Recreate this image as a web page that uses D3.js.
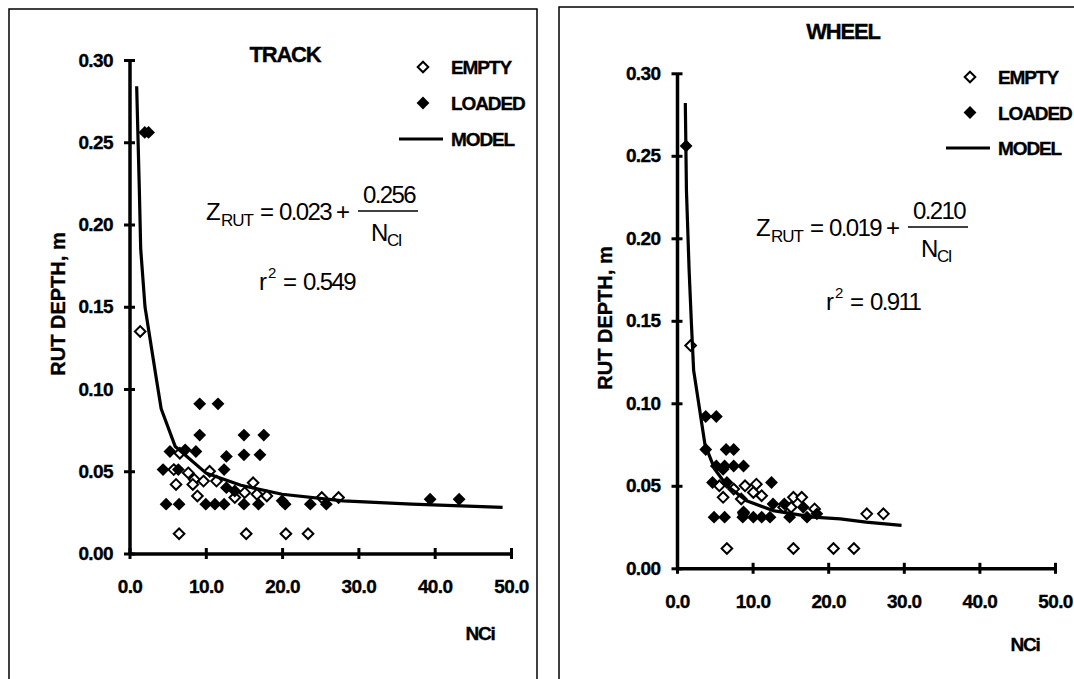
<!DOCTYPE html>
<html>
<head>
<meta charset="utf-8">
<script src="https://cdn.jsdelivr.net/npm/d3@7"></script>
<style>
  body { margin: 0; background: #fff; }
  svg { display: block; }
  text { font-family: "Liberation Sans", Arial, sans-serif; fill: #000; }
  .bold { font-weight: bold; stroke: #000; stroke-width: 0.35px; }
</style>
</head>
<body>
<div id="chart"></div>
<script>
var width = 1074
var height = 679

// tick labels
var yTicks = [0, 0.05, 0.10, 0.15, 0.20, 0.25, 0.30]
var xTicks = [0, 10, 20, 30, 40, 50]

// TRACK panel: [NCi, rut depth]
var trackEmpty = [[1.4,0.135],[6.5,0.012],[15.3,0.012],[20.5,0.012],[23.4,0.012],
  [6.6,0.061],[5.8,0.051],[6.1,0.042],[7.7,0.049],[8.5,0.045],[8.3,0.042],[8.9,0.035],
  [9.7,0.044],[10.5,0.050],[11.4,0.044],[13.8,0.034],[15.1,0.037],[16.2,0.043],
  [16.7,0.036],[18.0,0.035],[25.2,0.034],[27.4,0.034]]
var trackLoaded = [[2.0,0.256],[2.5,0.256],[9.2,0.091],[11.6,0.091],[9.2,0.072],
  [15.0,0.072],[17.6,0.072],[5.3,0.062],[7.3,0.063],[8.7,0.062],[12.7,0.059],
  [15.0,0.060],[17.1,0.060],[4.4,0.051],[6.4,0.051],[12.4,0.051],[12.7,0.040],
  [13.8,0.038],[4.8,0.030],[6.5,0.030],[10.0,0.030],[11.2,0.030],[12.4,0.030],
  [15.0,0.030],[16.9,0.030],[20.0,0.032],[20.4,0.030],[23.7,0.030],[25.8,0.030],
  [39.4,0.033],[43.2,0.033]]
var trackModel = [[0.94,0.284],[1.29,0.221],[1.47,0.185],[2.03,0.150],[3.56,0.105],
  [4.15,0.088],[6.0,0.065],[10,0.049],[14.6,0.0415],[20,0.036],[28,0.032],[37,0.030],[48.9,0.028]]

// WHEEL panel
var wheelEmpty = [[1.8,0.135],[6.6,0.012],[15.4,0.012],[20.7,0.012],[23.4,0.012],
  [25.1,0.033],[27.3,0.033],[5.6,0.050],[6.1,0.043],[7.5,0.048],[8.5,0.042],
  [9.0,0.050],[10.1,0.046],[10.5,0.051],[11.2,0.044],[8.8,0.034],[14.1,0.037],
  [15.1,0.037],[15.4,0.043],[16.5,0.043],[18.2,0.036]]
var wheelLoaded = [[1.2,0.256],[3.8,0.092],[5.2,0.092],[3.8,0.072],[6.5,0.072],
  [7.5,0.072],[5.2,0.062],[6.3,0.062],[7.5,0.062],[8.8,0.062],[6.1,0.060],
  [4.7,0.052],[6.6,0.052],[12.5,0.052],[4.9,0.031],[6.3,0.031],[8.7,0.031],
  [8.8,0.033],[10.1,0.031],[11.2,0.031],[12.3,0.031],[12.7,0.039],[14.2,0.039],
  [14.9,0.031],[16.7,0.037],[17.2,0.031],[18.5,0.033]]
var wheelModel = [[1.1,0.282],[1.25,0.229],[1.6,0.181],[1.9,0.149],[2.2,0.120],
  [3.7,0.075],[5.0,0.060],[6.6,0.050],[9.2,0.041],[12.7,0.035],[18.0,0.031],
  [21.6,0.030],[25,0.028],[29.7,0.026]]

var svg = d3.select("#chart")
    .append("svg")
    .attr("width", width)
    .attr("height", height)

function panel(cfg) {
    var g = svg.append("g")

    // frame (runs off the bottom / right like the original scan)
    g.append("rect")
        .attr("x", cfg.frame[0]).attr("y", cfg.frame[1])
        .attr("width", cfg.frame[2]).attr("height", 800)
        .attr("fill", "none").attr("stroke", "#000").attr("stroke-width", 1.5)

    var x = d3.scaleLinear().domain([0, 50]).range(cfg.xr)
    var y = d3.scaleLinear().domain([0, 0.30]).range(cfg.yr)

    // y axis with ticks crossing the line
    var ya = g.append("g")
        .attr("transform", "translate(" + cfg.xr[0] + ",0)")
        .call(d3.axisLeft(y).tickValues(yTicks).tickFormat(d3.format(".2f"))
            .tickSizeInner(5.5).tickSizeOuter(0).tickPadding(11))
    ya.select(".domain").attr("stroke-width", 3.5)
    ya.selectAll(".tick line").attr("x1", 5.5).attr("stroke-width", 3)
    ya.selectAll(".tick text").attr("class", "bold").style("font-size", "19px")
        .style("letter-spacing", "-0.6px")

    var xa = g.append("g")
        .attr("transform", "translate(0," + cfg.yr[0] + ")")
        .call(d3.axisBottom(x).tickValues(xTicks).tickFormat(d3.format(".1f"))
            .tickSizeInner(5.5).tickSizeOuter(0).tickPadding(21))
    xa.select(".domain").attr("stroke-width", 3.5)
    xa.selectAll(".tick line").attr("y1", -5.5).attr("stroke-width", 3)
    xa.selectAll(".tick text").attr("class", "bold").style("font-size", "19px")
        .style("letter-spacing", "-0.6px")

    var diamond = d3.symbol().type(d3.symbolDiamond2)

    g.selectAll(".empty")
        .data(cfg.empty)
        .enter()
        .append("path")
        .attr("class", "empty")
        .attr("d", diamond.size(72))
        .attr("transform", function(d) { return "translate(" + x(d[0]) + "," + y(d[1]) + ")" })
        .attr("fill", "#fff").attr("stroke", "#000").attr("stroke-width", 2)

    g.selectAll(".loaded")
        .data(cfg.loaded)
        .enter()
        .append("path")
        .attr("class", "loaded")
        .attr("d", diamond.size(105))
        .attr("transform", function(d) { return "translate(" + x(d[0]) + "," + y(d[1]) + ")" })
        .attr("fill", "#000")

    var line = d3.line()
        .x(function(d) { return x(d[0]) })
        .y(function(d) { return y(d[1]) })
    g.append("path")
        .datum(cfg.model)
        .attr("d", line)
        .attr("fill", "none").attr("stroke", "#000").attr("stroke-width", 3.2)
        .attr("stroke-linejoin", "round")

    // title
    g.append("text")
        .attr("class", "bold")
        .attr("x", cfg.title[0]).attr("y", cfg.title[1])
        .attr("text-anchor", "middle")
        .style("font-size", "22px").style("letter-spacing", "-1.2px")
        .text(cfg.name)

    // legend
    var lg = g.append("g").attr("transform", "translate(" + cfg.legend[0] + "," + cfg.legend[1] + ")")
    lg.append("path").attr("d", diamond.size(72)).attr("transform", "translate(0,0)")
        .attr("fill", "#fff").attr("stroke", "#000").attr("stroke-width", 2)
    lg.append("path").attr("d", diamond.size(105)).attr("transform", "translate(0," + cfg.legendStep + ")")
        .attr("fill", "#000")
    lg.append("line").attr("x1", -24).attr("x2", 20)
        .attr("y1", cfg.legendStep * 2).attr("y2", cfg.legendStep * 2)
        .attr("stroke", "#000").attr("stroke-width", 3.2)
    lg.selectAll(".lt")
        .data(["EMPTY", "LOADED", "MODEL"])
        .enter()
        .append("text")
        .attr("class", "bold")
        .attr("x", 28)
        .attr("y", function(d, i) { return i * cfg.legendStep + 7 })
        .style("font-size", "19px").style("letter-spacing", "-1.1px")
        .text(function(d) { return d })

    // axis titles
    g.append("text")
        .attr("class", "bold")
        .attr("transform", "translate(" + cfg.ytitle[0] + "," + cfg.ytitle[1] + ") rotate(-90)")
        .attr("text-anchor", "middle")
        .style("font-size", "20px")
        .text("RUT DEPTH, m")
    g.append("text")
        .attr("class", "bold")
        .attr("x", cfg.xtitle[0]).attr("y", cfg.xtitle[1])
        .attr("text-anchor", "middle")
        .style("font-size", "19px").style("letter-spacing", "-1.2px")
        .text("NCi")

    // regression equation
    var e = g.append("g").attr("transform", "translate(" + cfg.eq[0] + "," + cfg.eq[1] + ")")
        .style("font-size", "24px")
    e.append("text").attr("x", 0).attr("y", 0).text("Z")
    e.append("text").attr("x", 15).attr("y", 6).style("font-size", "17px").style("letter-spacing", "-1px").text("RUT")
    e.append("text").attr("x", 54).attr("y", 0).text("=")
    e.append("text").attr("x", 73).attr("y", 0).style("letter-spacing", "-1.6px").text(cfg.a)
    e.append("text").attr("x", 130).attr("y", 0).text("+")
    e.append("line").attr("x1", 152).attr("x2", 212).attr("y1", -9).attr("y2", -9)
        .attr("stroke", "#000").attr("stroke-width", 1.3)
    e.append("text").attr("x", 183).attr("y", -17).attr("text-anchor", "middle")
        .style("letter-spacing", "-1.6px").text(cfg.b)
    e.append("text").attr("x", 165).attr("y", 21).text("N")
    e.append("text").attr("x", 181).attr("y", 26).style("font-size", "17px").style("letter-spacing", "-1.5px").text("CI")

    var r = g.append("g").attr("transform", "translate(" + cfg.r2[0] + "," + cfg.r2[1] + ")")
        .style("font-size", "24px")
    r.append("text").attr("x", 0).attr("y", 0).text("r")
    r.append("text").attr("x", 9).attr("y", -12).style("font-size", "15px").text("2")
    r.append("text").attr("x", 24).attr("y", 0).text("=")
    r.append("text").attr("x", 44).attr("y", 0).style("letter-spacing", "-1.6px").text(cfg.r)
}

panel({
    name: "TRACK", frame: [9, 9, 528], xr: [129.5, 511], yr: [553.5, 60],
    empty: trackEmpty, loaded: trackLoaded, model: trackModel,
    title: [285, 62], legend: [423, 67], legendStep: 36,
    ytitle: [65, 304], xtitle: [480, 640],
    eq: [206, 220], a: "0.023", b: "0.256", r2: [259, 290], r: "0.549"
})

panel({
    name: "WHEEL", frame: [559, 7, 600], xr: [677, 1055], yr: [568.3, 73.3],
    empty: wheelEmpty, loaded: wheelLoaded, model: wheelModel,
    title: [843, 39], legend: [970, 77], legendStep: 35.5,
    ytitle: [612, 318], xtitle: [1025, 651],
    eq: [756, 236], a: "0.019", b: "0.210", r2: [826, 310], r: "0.911"
})
</script>
</body>
</html>
